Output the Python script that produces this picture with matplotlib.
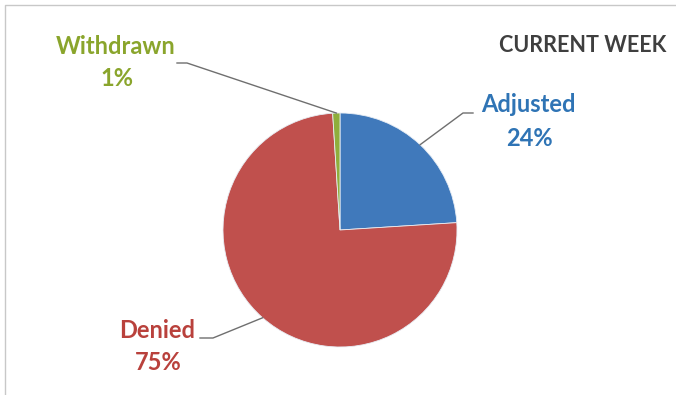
import matplotlib.pyplot as plt
import numpy as np

labels = ["Adjusted", "Denied", "Withdrawn"]
values = [24, 75, 1]
pcts = ["24%", "75%", "1%"]
slice_colors = ["#4079bb", "#c0504d", "#8fae3c"]
text_colors = ["#2f74b5", "#b9413c", "#8aa52c"]

W, H = 676, 395
fig = plt.figure(figsize=(W / 100, H / 100), dpi=100)
ax = fig.add_axes([0, 0, 1, 1])

# pixel coords -> data coords (y flipped)
def P(x, y):
    return x, H - y

cx, cy = P(340, 230)
r = 117
wedges, _ = ax.pie(values, colors=slice_colors, startangle=90, counterclock=False,
                   center=(cx, cy), radius=r, frame=True,
                   wedgeprops=dict(linewidth=0.6, edgecolor="#e8eef5"))
ax.set_xlim(0, W)
ax.set_ylim(0, H)
ax.set_aspect("equal")
ax.axis("off")

font = "Lato"
# label positions (text centre) and leader elbows, in pixel coords
label_pos = [(528, 105), (157, 330), (116, 46)]
elbows = [[(473, 113), (463, 113)], [(200, 338), (213, 338)], [(177, 63), (187, 63)]]

for w, lab, pct, tc, (lx, ly), el in zip(wedges, labels, pcts, text_colors, label_pos, elbows):
    ang = np.deg2rad((w.theta1 + w.theta2) / 2)
    ex, ey = cx + r * np.cos(ang), cy + r * np.sin(ang)
    xs = [el[0][0], el[1][0], ex]
    ys = [H - el[0][1], H - el[1][1], ey]
    ax.plot(xs, ys, color="#6f6f6f", lw=1.0, zorder=3)
    x, y = P(lx, ly)
    ax.text(x, y, lab, color=tc, fontsize=17, fontweight="bold", family=font,
            ha="center", va="center")
    x, y = P(lx + 1, ly + 33)
    ax.text(x, y, pct, color=tc, fontsize=17, fontweight="bold", family=font,
            ha="center", va="center")

x, y = P(666, 45)
ax.text(x, y, "CURRENT WEEK", color="#3f3f3f", fontsize=15.5, fontweight="bold",
        family=font, ha="right", va="center")

# light frame of the chart area
ax.plot([5, 5, W], [0, H - 5, H - 5], color="#c8c8c8", lw=1.0)

fig.savefig("out.png", dpi=100, facecolor="white")
